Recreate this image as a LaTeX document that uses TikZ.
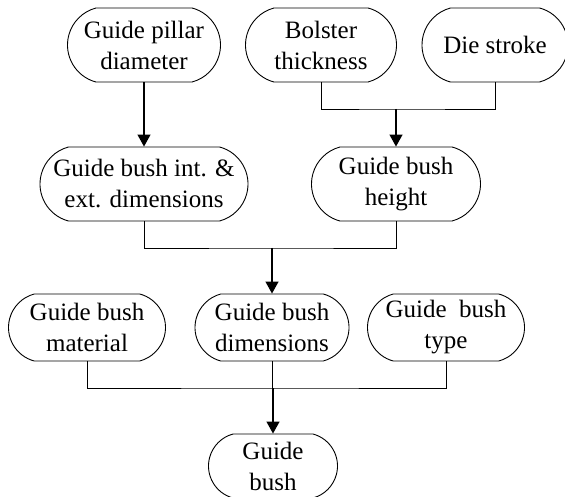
\documentclass[tikz,border=0pt]{standalone}
\usepackage{fontspec}
\setmainfont{Liberation Serif}
\usetikzlibrary{shapes.misc,arrows.meta}

\newcommand{\zw}[1]{\makebox[0pt]{#1}}

\tikzset{
  factor/.style={rounded rectangle, rounded rectangle arc length=150, draw,
    line width=0.9pt, align=center, inner xsep=0pt, inner ysep=0pt,
    minimum height=74pt, font=\fontsize{25}{31}\selectfont},
  link/.style={line width=0.9pt},
  flow/.style={line width=1.3pt, -{Triangle[length=12pt,width=13pt]}},
}

\begin{document}
\begin{tikzpicture}[x=1pt,y=-1pt]
  \useasboundingbox (0,0) rectangle (565,497);
  \clip (0,0) rectangle (565,497);
  % inputs
  \node[factor, minimum width=153pt] (N1) at (144,45)  {\zw{Guide pillar}\\\zw{diameter}};
  \node[factor, minimum width=151pt] (N2) at (321,45)  {\zw{Bolster}\\\zw{thickness}};
  \node[factor, minimum width=146pt] (N3) at (495,45)  {\zw{Die stroke}};
  \node[factor, minimum width=208pt] (N4) at (144,184) {\zw{Guide bush int. \&}\\\zw{ext. dimensions}};
  \node[factor, minimum width=169pt] (N5) at (396,184) {\zw{Guide bush}\\\zw{height}};
  \node[factor, minimum width=157pt, minimum height=67pt] (N6) at (87,327.5)  {\zw{Guide bush}\\\zw{material}};
  \node[factor, minimum width=154pt, minimum height=67pt] (N7) at (272,327.5) {\zw{Guide bush}\\\zw{dimensions}};
  \node[factor, minimum width=157pt, minimum height=67pt] (N8) at (446,327.5) {\zw{Guide\ \ bush}\\\zw{type}};
  \node[factor, minimum width=129pt, minimum height=64pt] (N9) at (273,466) {\zw{Guide}\\\zw{bush}};
  % joins
  \coordinate (J1) at (396,109);
  \coordinate (J2) at (272,248);
  \coordinate (J3) at (273,388);
  \draw[flow] (N1) -- (N4);
  \draw[link] (N2.south) |- (J1) -| (N3.south);
  \draw[flow] (J1) -- (N5.north);
  \draw[link] (N4.south) |- (J2) -| (N5.south);
  \draw[flow] (J2) -- (N7.north);
  \draw[link] (N6.south) |- (J3) -| (N8.south);
  \draw[link] (N7.south) -- (N7.south |- J3);
  \draw[flow] (J3) -- (N9.north);
\end{tikzpicture}
\end{document}
